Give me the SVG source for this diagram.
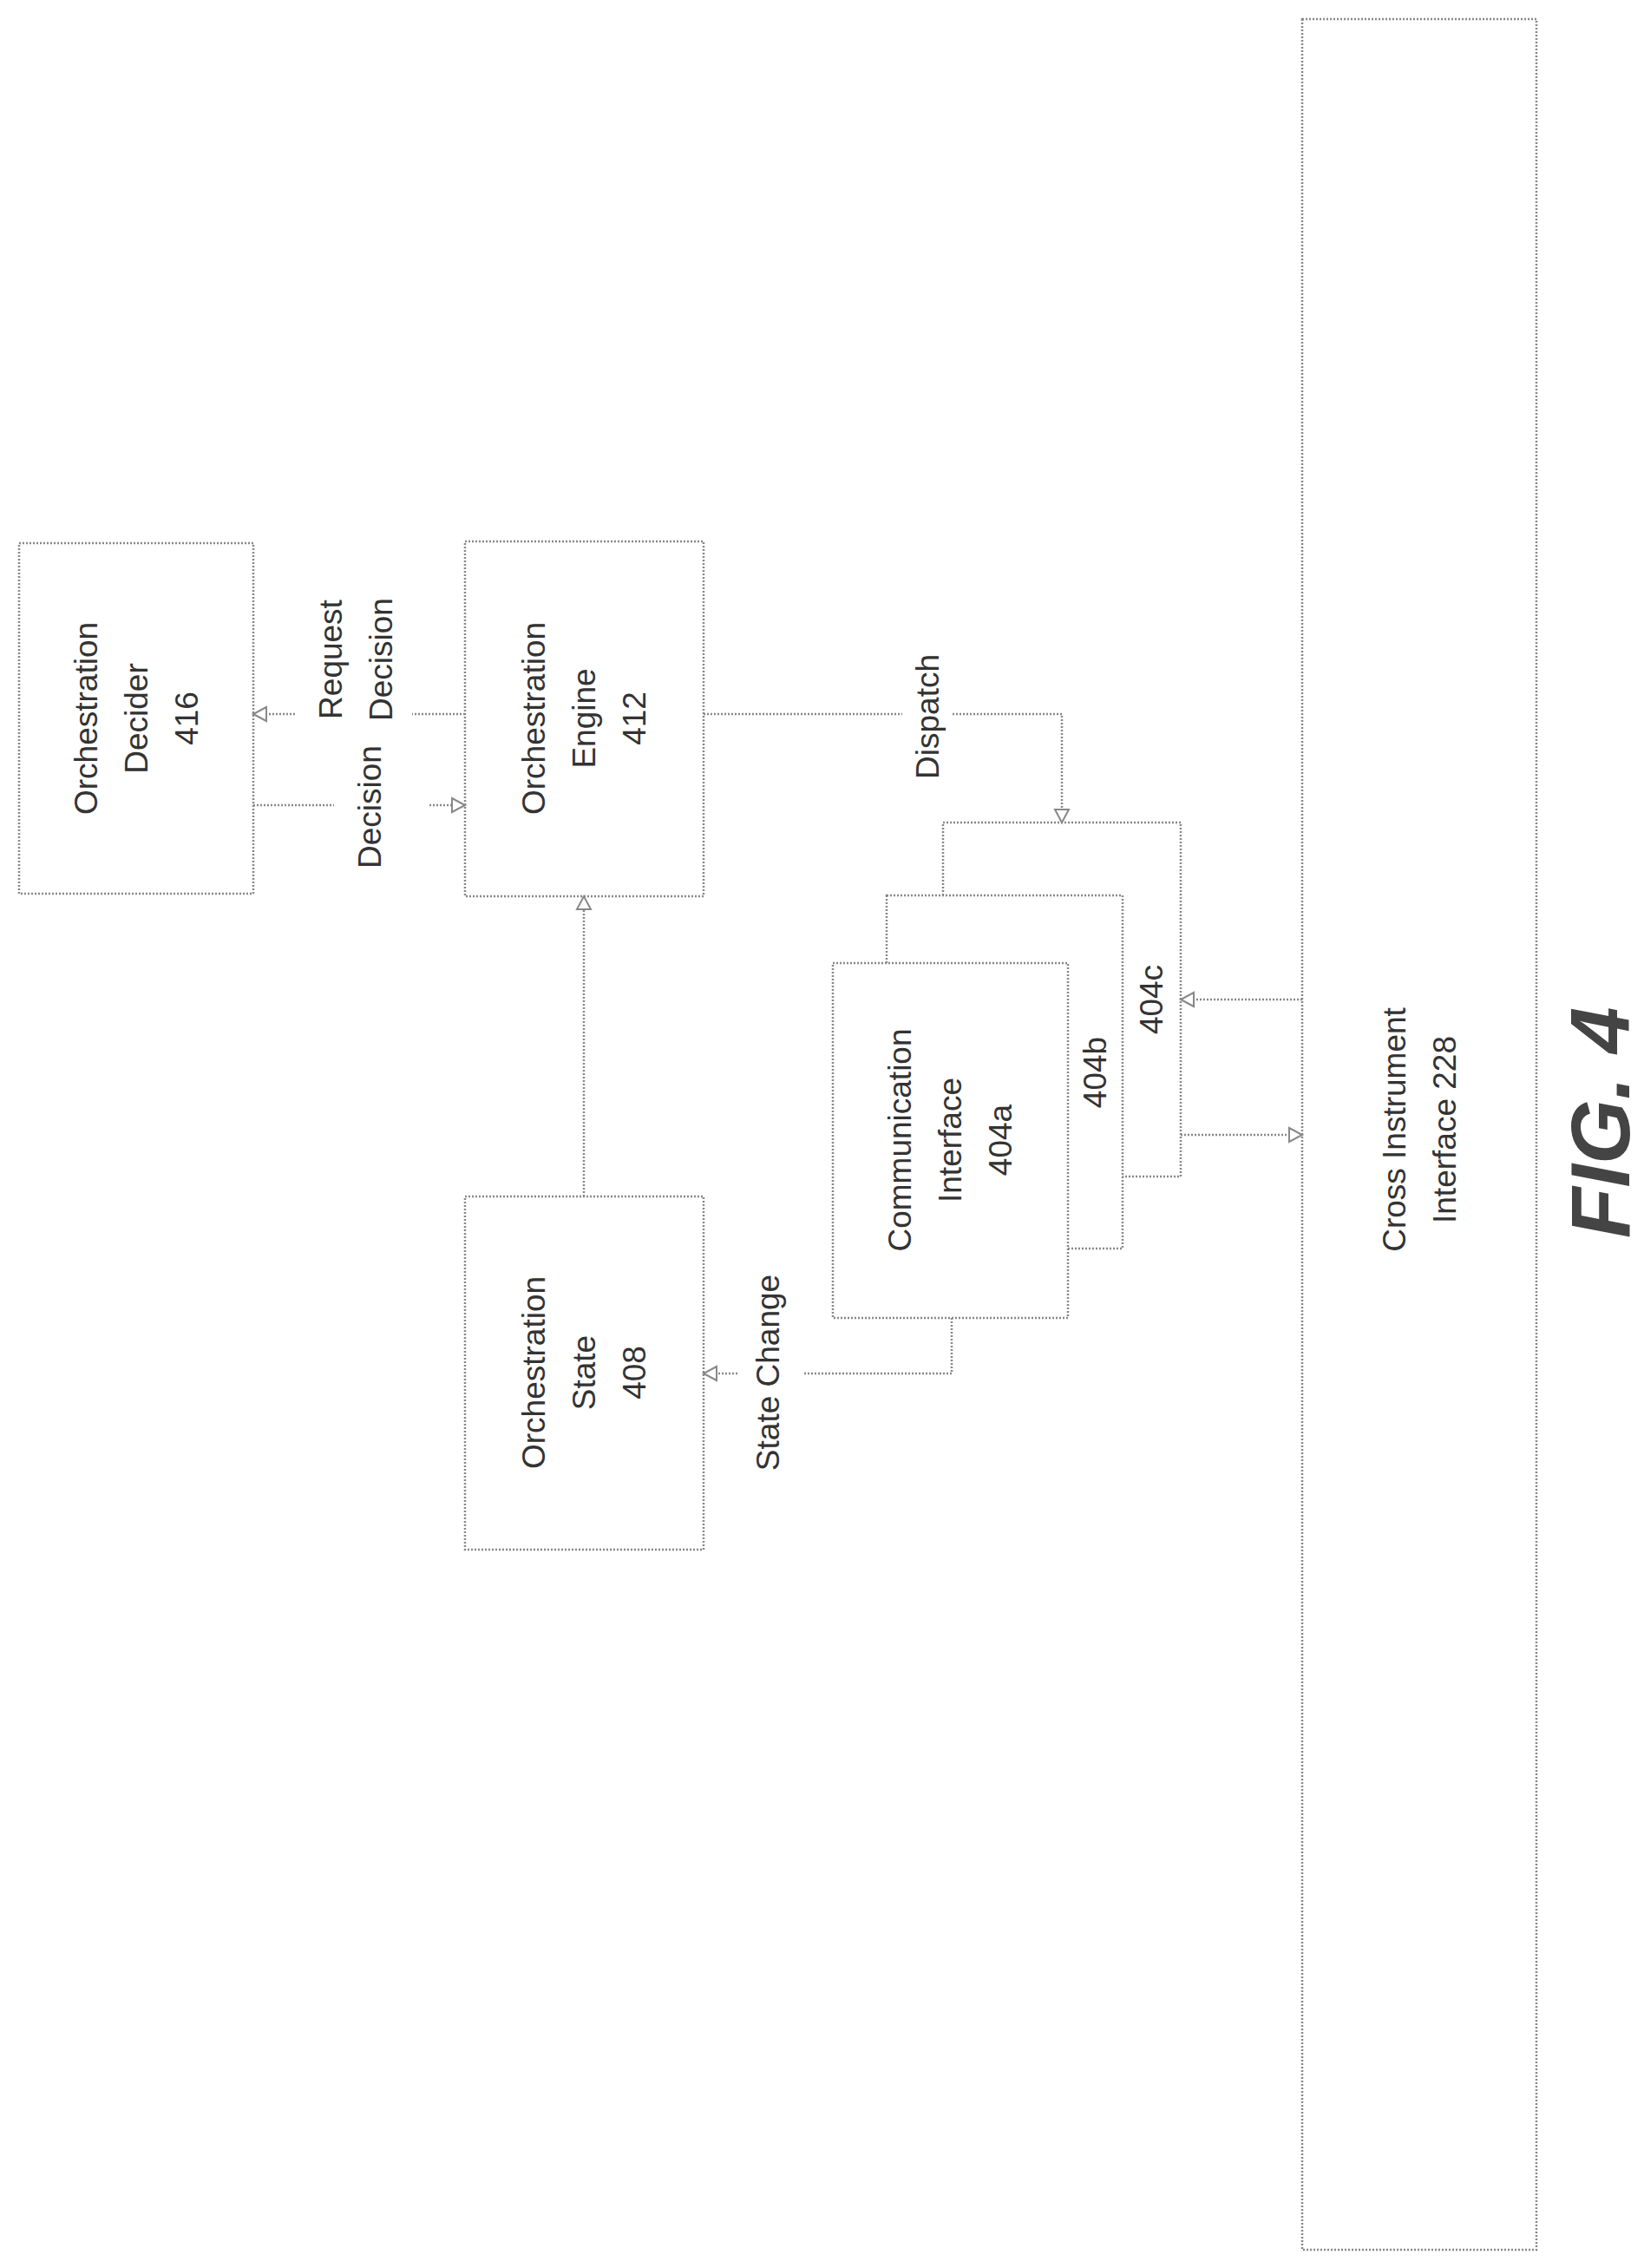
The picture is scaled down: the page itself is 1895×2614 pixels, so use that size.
<svg xmlns="http://www.w3.org/2000/svg" width="1895" height="2614" viewBox="0 0 1895 2614">
<style>
.b{fill:#fff;stroke:#888;stroke-width:2.5;stroke-dasharray:2 2}
.c{fill:none;stroke:#888;stroke-width:2.5;stroke-dasharray:2 2}
text{font-family:"Liberation Sans",Arial,sans-serif;font-size:37px;fill:#333;text-anchor:middle}
</style>
<defs><marker id="a" markerWidth="20" markerHeight="20" refX="17" refY="10" orient="auto" markerUnits="userSpaceOnUse"><path d="M2,2 L17,10 L2,18 Z" fill="#fff" stroke="#888" stroke-width="2"/></marker></defs>
<rect width="1895" height="2614" fill="#fff"/>
<g id="cross"><rect class="b" x="1501" y="22" width="270" height="2571"/><text transform="translate(1636,1302) rotate(-90)"><tspan x="0" y="-16">Cross Instrument</tspan><tspan x="0" y="42">Interface 228</tspan></text></g>
<g id="decider"><rect class="b" x="22" y="626" width="270" height="404"/><text transform="translate(157,828) rotate(-90)"><tspan x="0" y="-45">Orchestration</tspan><tspan x="0" y="13">Decider</tspan><tspan x="0" y="71">416</tspan></text></g>
<g id="engine"><rect class="b" x="536" y="624" width="275" height="409"/><text transform="translate(673,828) rotate(-90)"><tspan x="0" y="-45">Orchestration</tspan><tspan x="0" y="13">Engine</tspan><tspan x="0" y="71">412</tspan></text></g>
<g id="state"><rect class="b" x="536" y="1379" width="275" height="407"/><text transform="translate(673,1582) rotate(-90)"><tspan x="0" y="-45">Orchestration</tspan><tspan x="0" y="13">State</tspan><tspan x="0" y="71">408</tspan></text></g>
<g id="c404c"><rect class="b" x="1087" y="948" width="274" height="408"/><text transform="translate(1340,1152) rotate(-90)">404c</text></g>
<g id="c404b"><rect class="b" x="1022" y="1032" width="272" height="407"/><text transform="translate(1275,1236) rotate(-90)">404b</text></g>
<g id="c404a"><rect class="b" x="960" y="1110" width="271" height="409"/><text transform="translate(1095,1314) rotate(-90)"><tspan x="0" y="-45">Communication</tspan><tspan x="0" y="13">Interface</tspan><tspan x="0" y="71">404a</tspan></text></g>
<g id="connectors">
<path class="c" d="M292,928 H385"/><path class="c" d="M495,928 H536" marker-end="url(#a)"/>
<path class="c" d="M536,823 H475"/><path class="c" d="M340,823 H292" marker-end="url(#a)"/>
<path class="c" d="M811,823 H1040"/><path class="c" d="M1098,823 H1224 V948" marker-end="url(#a)"/>
<path class="c" d="M673,1379 V1033" marker-end="url(#a)"/>
<path class="c" d="M1097,1519 V1583 H925"/><path class="c" d="M850,1583 H811" marker-end="url(#a)"/>
<path class="c" d="M1501,1152 H1361" marker-end="url(#a)"/>
<path class="c" d="M1361,1308 H1501" marker-end="url(#a)"/>
<text transform="translate(426,930) rotate(-90)" dy="13">Decision</text>
<text transform="translate(410,760) rotate(-90)"><tspan x="0" y="-16">Request</tspan><tspan x="0" y="42">Decision</tspan></text>
<text transform="translate(1069,826) rotate(-90)" dy="13">Dispatch</text>
<text transform="translate(885,1582) rotate(-90)" dy="13">State Change</text>
</g>
<text transform="translate(1878,1294) rotate(-90)" style="font-size:96px;font-weight:bold;font-style:italic;fill:#444">FIG. 4</text>
</svg>
